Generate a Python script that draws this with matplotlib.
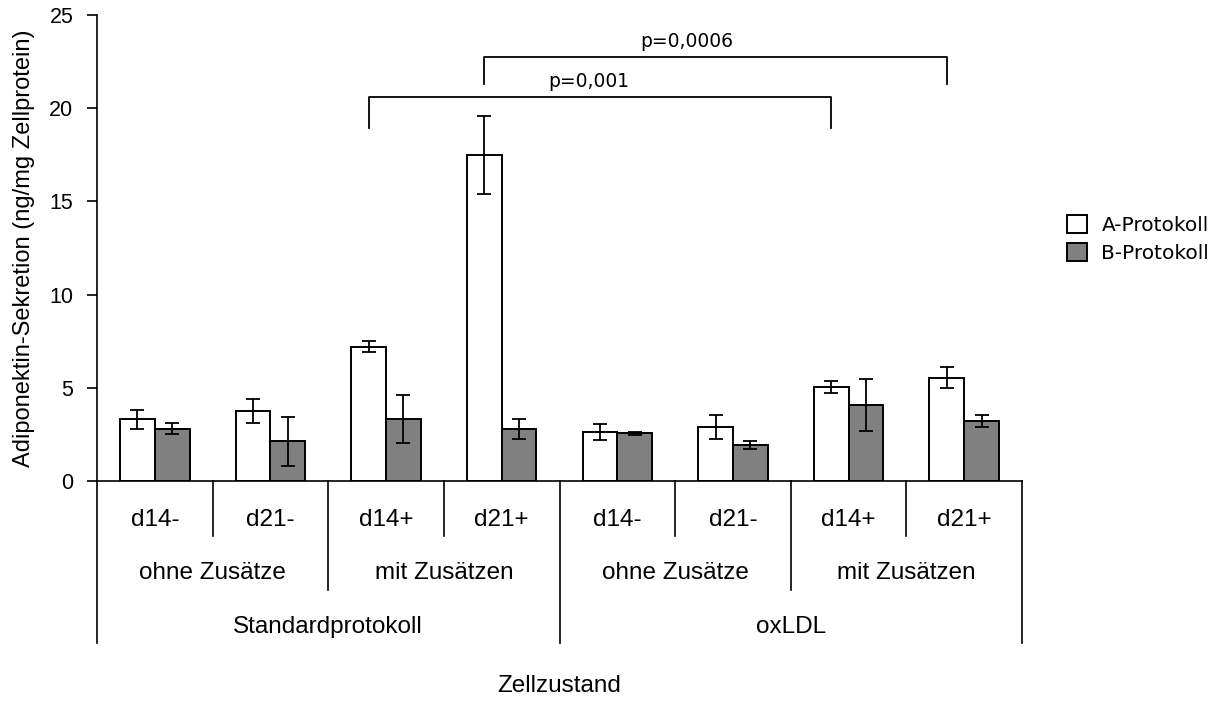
import matplotlib.pyplot as plt
import matplotlib.transforms as mtransforms
import numpy as np

# data
days = ["d14-", "d21-", "d14+", "d21+", "d14-", "d21-", "d14+", "d21+"]
zusatz = ["ohne Zusätze", "mit Zusätzen", "ohne Zusätze", "mit Zusätzen"]
protokoll = ["Standardprotokoll", "oxLDL"]

a_vals = [3.3, 3.75, 7.2, 17.5, 2.65, 2.9, 5.05, 5.55]
a_err = [0.53, 0.63, 0.3, 2.1, 0.43, 0.64, 0.32, 0.54]
b_vals = [2.8, 2.13, 3.33, 2.8, 2.56, 1.92, 4.07, 3.2]
b_err = [0.3, 1.3, 1.28, 0.55, 0.08, 0.21, 1.4, 0.32]

# significance brackets: (left group, right group, y top, y foot, label)
brackets = [(2, 6, 20.6, 18.95, "p=0,001"),
            (3, 7, 22.75, 21.3, "p=0,0006")]
label_shift = [-0.1, -0.25]

arial = "Liberation Sans"
tahoma = "DejaVu Sans"


def main():
    fig = plt.figure(figsize=(12.16, 7.01), dpi=100)
    ax = fig.add_axes([97 / 1216, 1 - 481 / 701, (1022 - 97) / 1216, (481 - 15) / 701])

    x = np.arange(len(days))
    w = 0.3
    err_kw = dict(ecolor="black", elinewidth=1.3, capsize=5, capthick=1.3)
    ax.bar(x - w / 2, a_vals, w, yerr=a_err, color="white", edgecolor="black",
           linewidth=1.4, error_kw=err_kw, label="A-Protokoll")
    ax.bar(x + w / 2, b_vals, w, yerr=b_err, color="#808080", edgecolor="black",
           linewidth=1.4, error_kw=err_kw, label="B-Protokoll")

    ax.set_xlim(-0.5, len(days) - 0.5)
    ax.set_ylim(0, 25)
    ax.set_yticks(range(0, 26, 5))
    ax.tick_params(axis="y", direction="out", length=7, width=1.2, labelsize=15.5, pad=10)
    for lab in ax.get_yticklabels():
        lab.set_fontfamily(arial)
    ax.set_xticks([])
    for s in ["top", "right"]:
        ax.spines[s].set_visible(False)
    ax.spines["left"].set_linewidth(1.2)
    ax.spines["bottom"].set_linewidth(1.2)
    ax.set_ylabel("Adiponektin-Sekretion (ng/mg Zellprotein)", fontsize=17,
                  family=arial)
    ax.yaxis.set_label_coords(-62 / 925, 0.5)

    # brackets
    for (g1, g2, ytop, yfoot, lab), dx in zip(brackets, label_shift):
        x1 = g1 - w / 2
        x2 = g2 - w / 2
        ax.plot([x1, x1, x2, x2], [yfoot, ytop, ytop, yfoot], color="black", lw=1.3,
                clip_on=False)
        ax.text((x1 + x2) / 2 + dx, ytop + 0.3, lab, ha="center", va="bottom",
                fontsize=13.5, family=tahoma)

    # multi-level category axis
    trans = mtransforms.blended_transform_factory(ax.transData, fig.transFigure)
    def fy(py):
        return 1 - py / 701

    level_end = {1: 536, 2: 590, 3: 643}
    for b in np.arange(-0.5, len(days), 1.0):
        if b in (-0.5, 3.5, 7.5):
            lvl = 3
        elif b in (1.5, 5.5):
            lvl = 2
        else:
            lvl = 1
        ax.plot([b, b], [fy(481), fy(level_end[lvl])], color="black", lw=1.2,
                transform=trans, clip_on=False)

    fs = 17.5
    for i, d in enumerate(days):
        ax.text(i, fy(520), d, ha="center", va="center", fontsize=fs, family=arial,
                transform=trans)
    for i, z in enumerate(zusatz):
        ax.text(2 * i + 0.5, fy(573), z, ha="center", va="center", fontsize=fs,
                family=arial, transform=trans)
    for i, p in enumerate(protokoll):
        ax.text(4 * i + 1.5, fy(627), p, ha="center", va="center", fontsize=fs,
                family=arial, transform=trans)
    ax.text(3.5, fy(686), "Zellzustand", ha="center", va="center", fontsize=fs,
            family=arial, transform=trans)

    fig.legend(loc="center left", bbox_to_anchor=(1049 / 1216, 1 - 239 / 701),
               frameon=False, prop={"family": tahoma, "size": 14.5},
               handlelength=1.0, handleheight=1.0, handletextpad=0.7,
               labelspacing=0.4)

    fig.savefig("out.png", dpi=100)


if __name__ == "__main__":
    main()
